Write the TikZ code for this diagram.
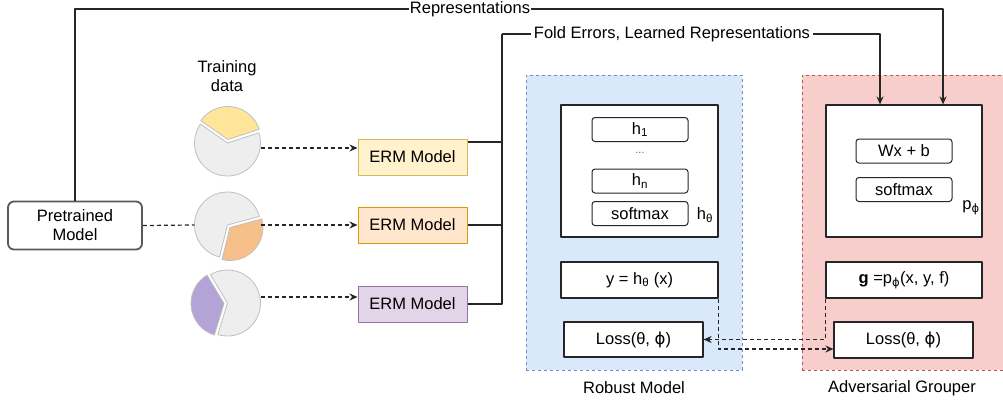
\documentclass[tikz,border=0pt]{standalone}
\usepackage{fontspec}
\setmainfont{Liberation Sans}
\newfontfamily\grk{DejaVu Sans}
\newcommand{\phig}{{\grk ϕ}}
\usetikzlibrary{arrows.meta}
\definecolor{ylwF}{HTML}{FFF2CC}\definecolor{ylwD}{HTML}{D6B656}
\definecolor{orgF}{HTML}{FFE6CC}\definecolor{orgD}{HTML}{D79B00}
\definecolor{prpF}{HTML}{E1D5E7}\definecolor{prpD}{HTML}{9673A6}
\definecolor{bluF}{HTML}{DAE8FC}\definecolor{bluD}{HTML}{6C8EBF}
\definecolor{redF}{HTML}{F8CECC}\definecolor{redD}{HTML}{B85450}
\definecolor{pieG}{HTML}{EEEEEE}\definecolor{pieY}{HTML}{FFE599}
\definecolor{pieO}{HTML}{F7C08A}\definecolor{pieP}{HTML}{B3A3D6}
\tikzset{
  box/.style={draw=black!85, fill=white, line width=1.2pt, minimum width=157pt, minimum height=36pt, inner sep=0pt},
  layer/.style={draw=black!85, fill=white, rounded corners=3pt, line width=1pt, minimum width=96pt, minimum height=24pt, inner sep=0pt},
  erm/.style={line width=1pt, minimum width=109pt, minimum height=36pt},
  group/.style={dash pattern=on 3pt off 3pt, line width=0.8pt, minimum height=295pt},
  wire/.style={line width=1.2pt, draw=black!85},
  dashwire/.style={wire, dash pattern=on 4pt off 3pt},
  pie/.style={draw=black!25, line width=0.8pt},
}
\begin{document}
\begin{tikzpicture}[x=1pt, y=-1pt, >={Stealth[length=8pt,width=7pt]}, line join=round, font=\fontsize{16.5}{19}\selectfont]
	\useasboundingbox (0,0) rectangle (1003,402);
	\clip (0,0) rectangle (1003,402);
	% groups
	\node[group, draw=bluD, fill=bluF, minimum width=216pt] (robust) at (634,222.5) {};
	\node[group, draw=redD, fill=redF, minimum width=210pt] (adv) at (907,222.5) {};
	\node (robustlbl) at (634,388) {Robust Model};
	\node (advlbl) at (902,388) {Adversarial Grouper};
	% robust model
	\node[box, minimum height=132pt] (hbox) at (639.5,171) {};
	\node[layer] (h1) at (640,129.5) {h\textsubscript{1}};
	\node[text=black!60, font=\fontsize{11}{13}\selectfont] (hdots) at (640,153) {...};
	\node[layer] (hn) at (640,181) {h\textsubscript{n}};
	\node[layer] (smax1) at (640,213.5) {softmax};
	\node (hlbl) at (705,215) {h\textsubscript{θ}};
	\node[box] (ybox) at (639.5,280) {y = h\textsubscript{θ} (x)};
	\node[box, minimum width=139pt, minimum height=35pt] (lossL) at (633.5,339.5) {Loss(θ, \phig)};
	% adversarial grouper
	\node[box, minimum width=156pt, minimum height=132pt] (pbox) at (904,171) {};
	\node[layer] (wx) at (904,151) {Wx + b};
	\node[layer] (smax2) at (904,189.5) {softmax};
	\node (plbl) at (971,208) {p\textsubscript{\phig}};
	\node[box, minimum width=156pt] (gbox) at (904,280) {\textbf{g} =p\textsubscript{\phig}(x, y, f)};
	\node[box, minimum width=139pt] (lossR) at (903.5,340) {Loss(θ, \phig)};
	% left part
	\node[draw=black!65, fill=white, line width=1.8pt, rounded corners=6pt, minimum width=134pt, minimum height=48pt, align=center] (pre) at (75,225.5) {Pretrained\\Model};
	\node[align=center] (tdata) at (227,76) {Training\\data};
	\foreach \n/\yy/\f/\d in {1/157/ylwF/ylwD, 2/225/orgF/orgD, 3/304/prpF/prpD}
	\node[erm, fill=\f, draw=\d] (erm\n) at (412.5,\yy) {ERM Model};
	\foreach \n/\yy in {1/143, 2/225, 3/303}
	\node[circle, minimum size=66pt, inner sep=0pt] (pie\n) at (227.5,\yy) {};
	\foreach \n/\a/\b/\e/\c in {1/18/145/85/pieY, 2/-104/15/-45/pieO, 3/121/253/187/pieP}{
		\filldraw[pie, fill=pieG] (pie\n.center) -- ++(\b:33pt) arc[start angle=\b, end angle=\a+360, radius=33pt] -- cycle;
		\filldraw[pie, fill=\c] ([shift={(\e:3.5pt)}]pie\n.center) -- ++(\a:33pt) arc[start angle=\a, end angle=\b, radius=33pt] -- cycle;
	}
	\coordinate[yshift=-5pt] (p1out) at (pie1.east);
	\coordinate[yshift=6pt] (p3out) at (pie3.east);
	\draw[dashwire] (pre.east) -- (pie2.west);
	\draw[dashwire,->] (p1out) -- (p1out -| erm1.west);
	\draw[dashwire,->] (pie2.east) -- (erm2.west);
	\draw[dashwire,->] (p3out) -- (p3out -| erm3.west);
	% top connectors
	\node[fill=white, inner sep=1pt] (rep) at (470,9) {Representations};
	\node[fill=white, inner sep=3pt] (fold) at (672,34) {Fold Errors, Learned Representations};
	\coordinate (bus) at (502,34);
	\draw[wire] (pre.north) |- (rep.west);
	\draw[wire,->] (rep.east) -| ([xshift=39pt]pbox.north);
	\draw[wire] ([yshift=15pt]erm1.east) -| (bus);
	\draw[wire] (erm2.east) -| (bus);
	\draw[wire] (erm3.east) -| (bus);
	\draw[wire] (bus) -- (fold.west);
	\draw[wire,->] (fold.east) -| ([xshift=-24pt]pbox.north);
	% losses
	\draw[dashwire,->] (ybox.south east) |- ([yshift=-9pt]lossR.west);
	\draw[dashwire,->] (gbox.south west) |- (lossL.east);
\end{tikzpicture}
\end{document}
